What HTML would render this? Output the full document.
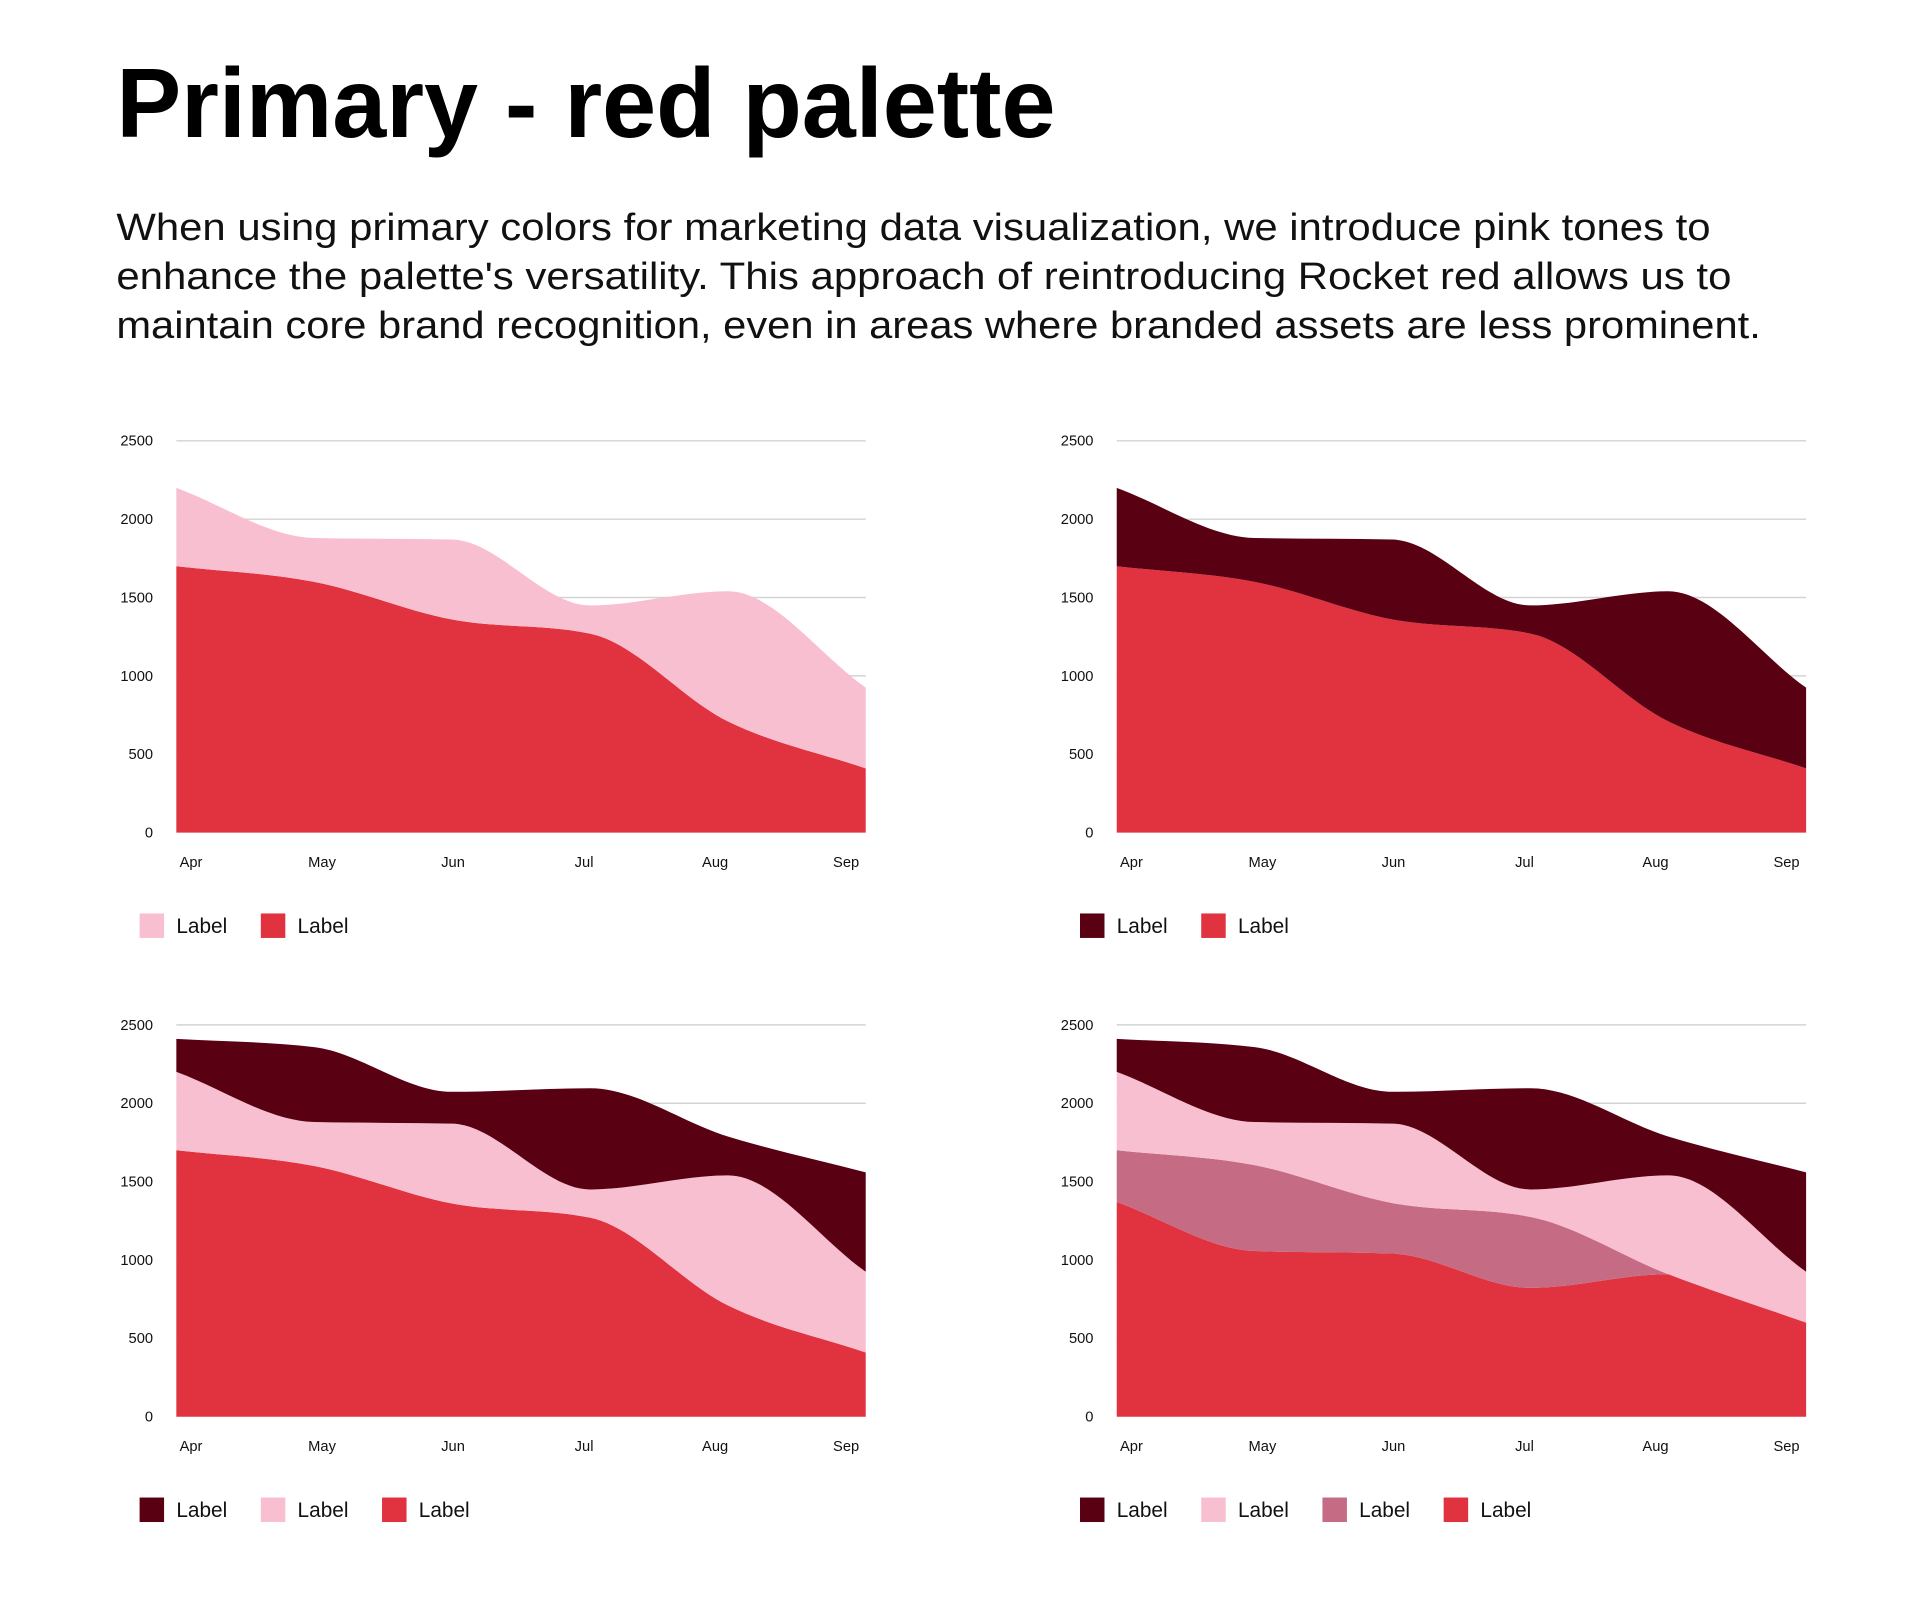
<!DOCTYPE html>
<html><head><meta charset="utf-8"><style>
html,body{margin:0;padding:0;background:#fff;}
svg{display:block;font-family:"Liberation Sans",sans-serif;}
</style></head><body>
<svg id="root" width="1920" height="1601" viewBox="0 0 1568 1307.5" xmlns="http://www.w3.org/2000/svg">
<rect width="1568" height="1308" fill="#fff"/>
<text x="95" y="112" font-size="80" font-weight="bold" textLength="767" lengthAdjust="spacingAndGlyphs" fill="#000">Primary - red palette</text>
<g font-size="31" fill="#111">
<text x="95" y="196" textLength="1302" lengthAdjust="spacingAndGlyphs">When using primary colors for marketing data visualization, we introduce pink tones to</text>
<text x="95" y="236" textLength="1319" lengthAdjust="spacingAndGlyphs">enhance the palette's versatility. This approach of reintroducing Rocket red allows us to</text>
<text x="95" y="276" textLength="1343" lengthAdjust="spacingAndGlyphs">maintain core brand recognition, even in areas where branded assets are less prominent.</text>
</g>
</svg>
<script>
const months = ["Apr","May","Jun","Jul","Aug","Sep"];
const yTicks = [0,500,1000,1500,2000,2500];
// chart 1 & 2 & 3 series
const redA = [1700,1600,1360,1270,710,410];
const pinkA = [500,280,510,180,830,515];
const darkTopA = [211,478,203,646,248,634];
// chart 4 series
const red4 = [1370,1057,1041,822,909,600];
const mauve4 = [330,548,322,453,0,0];
const pink4 = [500,275,507,175,631,325];
const dark4 = [211,478,203,646,248,634];

const C = {red:"#E0323F",pink:"#F8BFD0",dark:"#5A0013",mauve:"#C66B84"};
const NS="http://www.w3.org/2000/svg";
const root=document.getElementById('root');
function mk(tag,attrs,parent){const e=document.createElementNS(NS,tag);for(const k in attrs)e.setAttribute(k,attrs[k]);parent.appendChild(e);return e;}

function monotonePath(pts){
  const n=pts.length;const dx=[],m=[],t=[];
  for(let i=0;i<n-1;i++){dx[i]=pts[i+1][0]-pts[i][0];m[i]=(pts[i+1][1]-pts[i][1])/dx[i];}
  t[0]=m[0];t[n-1]=m[n-2];
  for(let i=1;i<n-1;i++){
    if(m[i-1]*m[i]<=0)t[i]=0;
    else{const h0=dx[i-1],h1=dx[i];const p=(m[i-1]*h1+m[i]*h0)/(h0+h1);
      t[i]=(Math.sign(m[i-1])+Math.sign(m[i]))*Math.min(Math.abs(m[i-1]),Math.abs(m[i]),0.5*Math.abs(p));}
  }
  let d="";
  for(let i=0;i<n-1;i++){const h=dx[i]/3;
    d+=` C${pts[i][0]+h},${pts[i][1]+h*t[i]} ${pts[i+1][0]-h},${pts[i+1][1]-h*t[i+1]} ${pts[i+1][0]},${pts[i+1][1]}`;}
  return d;
}

function chart(ox,oy,series,name){
  // series: bottom-to-top [{vals,color,label}], legend order given separately
  const g=mk('g',{},root);
  
  
  const x0=144+ox,x1=707+ox,y0=680+oy,yTop=360+oy;
  const xs=i=>x0+i*(x1-x0)/(months.length-1);
  const ys=v=>y0-(v/2500)*(y0-yTop);
  yTicks.forEach(v=>{
    if(v>0){const l=mk('line',{x1:x0,x2:x1,y1:ys(v),y2:ys(v),stroke:"#d3d3d3","stroke-width":1.2},g);
      
      }
    const t=mk('text',{x:125+ox,y:ys(v)+4,"text-anchor":"end","font-size":12,fill:"#111"},g);
    t.textContent=v;
    
    
  });
  let base=months.map(()=>0);
  series.forEach(s=>{
    const top=base.map((b,i)=>b+s.vals[i]);
    const tp=top.map((v,i)=>[xs(i),ys(v)]);
    const bp=base.map((v,i)=>[xs(i),ys(v)]).reverse();
    let d=`M${tp[0][0]},${tp[0][1]}`+monotonePath(tp)+` L${bp[0][0]},${bp[0][1]}`+monotonePath(bp)+"Z";
    const p=mk('path',{d:d,fill:s.color},g);
    
    
    base=top;
  });
  months.forEach((m,i)=>{
    const t=mk('text',{x:156+ox+i*107,y:708+oy,"text-anchor":"middle","font-size":12,fill:"#111"},g);
    t.textContent=m;
    
    
  });
  return g;
}
function legend(ox,oy,colors,name){
  const g=mk('g',{},root);
  
  
  colors.forEach((c,i)=>{
    const e=mk('g',{},g);
    
    
    mk('rect',{x:114+ox+i*99,y:746+oy,width:20,height:20,fill:c},e);
    const t=mk('text',{x:144+ox+i*99,y:762+oy,"font-size":17,fill:"#111"},e);
    t.textContent="Label";
  });
}
chart(0,0,[{vals:redA,color:C.red,key:'red'},{vals:pinkA,color:C.pink,key:'pink'}],'area-chart-1');
legend(0,0,[C.pink,C.red],'legend-1');
chart(768,0,[{vals:redA,color:C.red,key:'red'},{vals:pinkA,color:C.dark,key:'dark'}],'area-chart-2');
legend(768,0,[C.dark,C.red],'legend-2');
chart(0,477,[{vals:redA,color:C.red,key:'red'},{vals:pinkA,color:C.pink,key:'pink'},{vals:darkTopA,color:C.dark,key:'dark'}],'area-chart-3');
legend(0,477,[C.dark,C.pink,C.red],'legend-3');
chart(768,477,[{vals:red4,color:C.red,key:'red'},{vals:mauve4,color:C.mauve,key:'mauve'},{vals:pink4,color:C.pink,key:'pink'},{vals:dark4,color:C.dark,key:'dark'}],'area-chart-4');
legend(768,477,[C.dark,C.pink,C.mauve,C.red],'legend-4');
</script>
</body></html>
